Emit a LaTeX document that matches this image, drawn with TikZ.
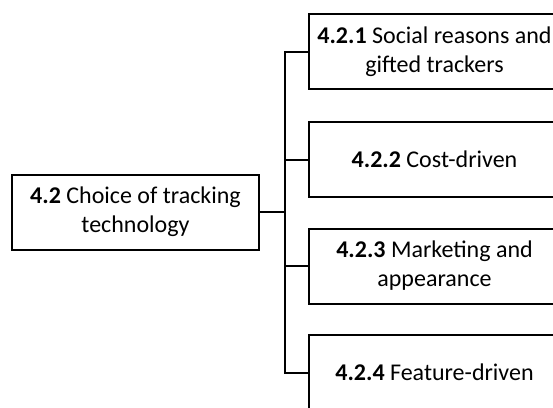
\documentclass[tikz,border=0pt]{standalone}
\usepackage{fontspec}
\setmainfont{Carlito}
\begin{document}
\begin{tikzpicture}[x=1bp,y=-1bp,
  box/.style={draw=black, line width=2bp, fill=white, inner sep=0pt,
    minimum height=75bp, align=center, font=\fontsize{24bp}{29bp}\selectfont},
  parent/.style={box, minimum width=247bp},
  child/.style={box, minimum width=251bp},
  link/.style={draw=black, line width=2bp}]
\useasboundingbox (0,0) rectangle (553,407);
\clip (0,0) rectangle (553,407);
\fill[white] (0,0) rectangle (553,407);

\node[parent] (root) at (135.5,212) {\textbf{4.2} Choice of tracking\\technology};

\node[child] (c1) at (434.5,51.5)  {\textbf{4.2.1} Social reasons and\\gifted trackers};
\node[child] (c2) at (434.5,159.5) {\textbf{4.2.2} Cost-driven};
\node[child] (c3) at (434.5,266)   {\textbf{4.2.3} Marketing and\\appearance};
\node[child] (c4) at (434.5,372.5) {\textbf{4.2.4} Feature-driven};

\coordinate (hub) at (285,212);
\draw[link] (root.east) -- (hub);
\draw[link] (hub) |- (c1.west);
\draw[link] (hub) |- (c2.west);
\draw[link] (hub) |- (c3.west);
\draw[link] (hub) |- (c4.west);
\end{tikzpicture}
\end{document}
